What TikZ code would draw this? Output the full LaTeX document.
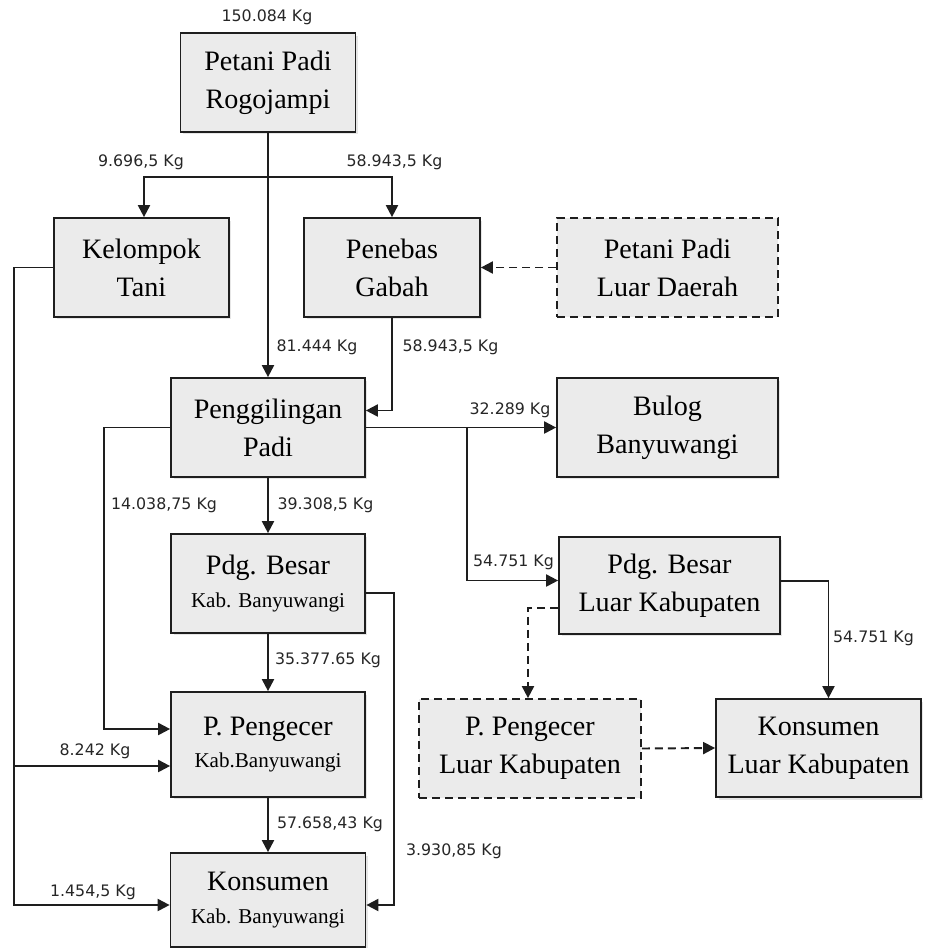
\documentclass[tikz,border=0pt]{standalone}
\usepackage{fontspec}
\setmainfont{Liberation Serif}
\newfontfamily\kgfont{DejaVu Sans}
\usetikzlibrary{arrows.meta,shadows}

\definecolor{boxgray}{RGB}{235,235,235}
\definecolor{linegray}{RGB}{30,30,30}

\begin{document}
\begin{tikzpicture}[x=0.02cm, y=-0.02cm,
    basebox/.style={draw=linegray, line width=1pt, rectangle, fill=boxgray, align=center, inner sep=0pt, minimum width=3.88cm, minimum height=1.98cm, font=\fontsize{16}{21.5}\selectfont},
    box/.style={basebox, drop shadow={shadow xshift=0.05cm, shadow yshift=-0.05cm, opacity=0.2}},
    dbox/.style={basebox, dash pattern=on 0.16cm off 0.1cm},
    flow/.style={-{Triangle[length=0.24cm,width=0.24cm]}, line width=1.1pt, draw=linegray},
    dflow/.style={flow, dash pattern=on 0.16cm off 0.1cm},
    kg/.style={font=\kgfont\fontsize{9}{11}\selectfont, text=black!85, inner sep=0pt},
]
\useasboundingbox (0,0) rectangle (925,948);

% Petani
\node[box, minimum width=3.5cm] (petani) at (268,82.5) {Petani Padi\\Rogojampi};
\node[kg] (kgpetani) at (267,17) {150.084 Kg};

% Kelompok, Penebas, Luar Daerah
\node[box, minimum width=3.5cm] (kelompok) at (141.5,267.5) {Kelompok\\Tani};
\node[box, minimum width=3.52cm] (penebas) at (392,267.5) {Penebas\\Gabah};
\node[dbox, minimum width=4.42cm] (luardaerah) at (667.5,267.5) {Petani Padi\\Luar Daerah};

% Penggilingan, Bulog
\node[box] (giling) at (268,427.5) {Penggilingan\\Padi};
\node[box, minimum width=4.42cm] (bulog) at (667.5,427.5) {Bulog\\Banyuwangi};

% Pedagang besar
\node[box] (pdgkab) at (268,583.5) {Pdg. Besar\\[-3pt]{\fontsize{12}{14}\selectfont Kab. Banyuwangi}};
\node[box, minimum width=4.42cm, minimum height=1.94cm] (pdgluar) at (669.5,585.5) {Pdg. Besar\\Luar Kabupaten};

% Pengecer
\node[box, minimum height=2.1cm] (ecerkab) at (268,744.5) {P. Pengecer\\[-3pt]{\fontsize{12}{14}\selectfont Kab.Banyuwangi}};
\node[dbox, minimum width=4.44cm] (ecerluar) at (530,748.5) {P. Pengecer\\Luar Kabupaten};
\node[box, minimum width=4.1cm, minimum height=1.96cm] (konsluar) at (818.5,748) {Konsumen\\Luar Kabupaten};

% Konsumen
\node[box, minimum width=3.9cm, minimum height=1.88cm] (konskab) at (268,900) {Konsumen\\[-3pt]{\fontsize{12}{14}\selectfont Kab. Banyuwangi}};

% helper points
\coordinate (split) at (268,177);
\coordinate (fork) at (467,427.5);
\coordinate (kbranch) at (15,766);

% flows from petani
\draw[flow] (petani.south) -- (giling.north);
\draw[flow] (split) -| ([xshift=0.05cm]kelompok.north);
\draw[flow] (split) -| (penebas.north);
\draw[dflow] (luardaerah.west) -- (penebas.east);
\draw[flow] (penebas.south) |- ([yshift=0.34cm]giling.east);

% flows from penggilingan
\draw[flow] (giling.east) -- (bulog.west);
\draw[flow] (fork) |- ([yshift=0.1cm]pdgluar.west);
\draw[flow] (giling.west) -- ++(-66,0) |- ([yshift=0.31cm]ecerkab.west);
\draw[flow] (giling.south) -- (pdgkab.north);

% kabupaten chain
\draw[flow] (pdgkab.south) -- (ecerkab.north);
\draw[flow] (ecerkab.south) -- (konskab.north);
\draw[flow] ([yshift=-0.19cm]pdgkab.east) -- ++(28,0) |- ([yshift=-0.1cm]konskab.east);

% kelompok tani
\draw[flow] (kelompok.west) -- ++(-39,0) |- ([yshift=-0.1cm]konskab.west);
\draw[flow] (kbranch) -- (kbranch -| ecerkab.west);

% luar kabupaten
\draw[flow] ([yshift=0.09cm]pdgluar.east) -| ([xshift=0.2cm]konsluar.north);
\draw[dflow] ([yshift=-0.45cm]pdgluar.west) -| ([xshift=-0.04cm]ecerluar.north);
\draw[dflow] (ecerluar.east) -- (konsluar.west);

% amounts
\node[kg] (kgkelompok) at (141,162) {9.696,5 Kg};
\node[kg] (kgpenebas) at (394.5,162) {58.943,5 Kg};
\node[kg] (kggiling) at (317,347) {81.444 Kg};
\node[kg] (kgpenebasout) at (450.5,347) {58.943,5 Kg};
\node[kg] (kgbulog) at (510,410) {32.289 Kg};
\node[kg] (kgecer) at (164,505) {14.038,75 Kg};
\node[kg] (kgpdgkab) at (325.5,505) {39.308,5 Kg};
\node[kg] (kgpdgluar) at (513.5,562) {54.751 Kg};
\node[kg] (kgkonsluar) at (873.5,638) {54.751 Kg};
\node[kg] (kgecerkab) at (328,660) {35.377.65 Kg};
\node[kg] (kgtaniecer) at (95,751) {8.242 Kg};
\node[kg] (kgkonskab) at (330,824) {57.658,43 Kg};
\node[kg] (kgpdgkons) at (454,851) {3.930,85 Kg};
\node[kg] (kgtanikons) at (93,892) {1.454,5 Kg};

\end{tikzpicture}
\end{document}
